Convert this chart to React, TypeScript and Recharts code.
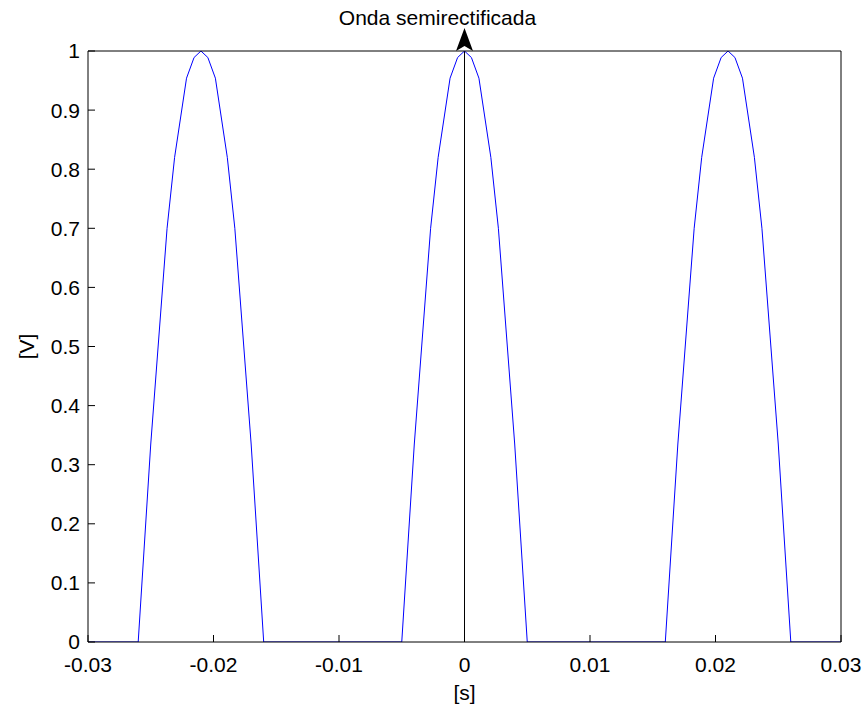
import React from "react";
import {
  LineChart,
  Line,
  XAxis,
  YAxis,
  ReferenceLine,
} from "recharts";

// sample times in seconds and the rectified voltage
const timeS = [
  -0.03, -0.026, -0.025, -0.0237, -0.0231, -0.02215, -0.02155, -0.021,
  -0.02045, -0.01985, -0.0189, -0.0183, -0.017, -0.016, -0.005, -0.004,
  -0.0027, -0.0021, -0.00115, -0.00055, 0, 0.00055, 0.00115, 0.0021, 0.0027,
  0.004, 0.005, 0.016, 0.017, 0.0183, 0.0189, 0.01985, 0.02045, 0.021,
  0.02155, 0.02215, 0.0231, 0.0237, 0.025, 0.026, 0.03,
];
const voltageV = [
  0, 0, 0.335, 0.7, 0.82, 0.954, 0.989, 1, 0.989, 0.954, 0.82, 0.7, 0.335, 0,
  0, 0.335, 0.7, 0.82, 0.954, 0.989, 1, 0.989, 0.954, 0.82, 0.7, 0.335, 0, 0,
  0.335, 0.7, 0.82, 0.954, 0.989, 1, 0.989, 0.954, 0.82, 0.7, 0.335, 0, 0,
];

const xTicks = [-0.03, -0.02, -0.01, 0, 0.01, 0.02, 0.03];
const yTicks = [0, 0.1, 0.2, 0.3, 0.4, 0.5, 0.6, 0.7, 0.8, 0.9, 1];

const TITLE = "Onda semirectificada";
const X_LABEL = "[s]";
const Y_LABEL = "[V]";

const FONT = "'Liberation Sans', Arial, sans-serif";
const FONT_SIZE = 21;
const TICK = { fill: "#000", fontSize: FONT_SIZE, fontFamily: FONT };

const data = timeS.map((t, i) => ({ t, v: voltageV[i] }));

function ArrowAnnotation(props: any) {
  const { viewBox } = props;
  const x = viewBox.x;
  const y = viewBox.y;
  return (
    <g>
      <polygon
        points={`${x},${y - 23} ${x + 8.5},${y} ${x},${y - 5} ${x - 8.5},${y}`}
        fill="#000"
      />
      <text
        x={x - 27}
        y={y - 26}
        textAnchor="middle"
        fontFamily={FONT}
        fontSize={FONT_SIZE}
        fill="#000"
      >
        {TITLE}
      </text>
    </g>
  );
}

function YLabel(props: any) {
  const { viewBox } = props;
  const cx = 26;
  const cy = viewBox.y + viewBox.height / 2;
  return (
    <text
      x={cx}
      y={cy}
      dy="0.36em"
      textAnchor="middle"
      transform={`rotate(-90, ${cx}, ${cy})`}
      fontFamily={FONT}
      fontSize={FONT_SIZE}
      fill="#000"
    >
      {Y_LABEL}
    </text>
  );
}

export default function App() {
  return (
    <div style={{ position: "absolute", left: 0, top: 0, background: "#fff" }}>
      <LineChart
        width={864}
        height={707}
        data={data}
        margin={{ top: 50, right: 22, bottom: 0, left: 0 }}
      >
        <XAxis
          dataKey="t"
          type="number"
          domain={[-0.03, 0.03]}
          ticks={xTicks}
          tickFormatter={(v: number) => String(v)}
          allowDataOverflow
          height={65}
          axisLine={{ stroke: "#000" }}
          tickLine={{ stroke: "#000" }}
          tickSize={-7}
          tickMargin={22}
          tick={TICK}
          interval={0}
          label={{
            value: X_LABEL,
            position: "insideBottom",
            offset: 7,
            fill: "#000",
            fontSize: FONT_SIZE,
            fontFamily: FONT,
          }}
        />
        <XAxis
          xAxisId="top"
          orientation="top"
          dataKey="t"
          type="number"
          domain={[-0.03, 0.03]}
          ticks={xTicks}
          allowDataOverflow
          height={1}
          axisLine={{ stroke: "#000" }}
          tickLine={{ stroke: "#000" }}
          tickSize={-7}
          tick={false}
          interval={0}
        />
        <YAxis
          type="number"
          domain={[0, 1]}
          ticks={yTicks}
          tickFormatter={(v: number) => String(v)}
          allowDataOverflow
          width={88}
          axisLine={{ stroke: "#000" }}
          tickLine={{ stroke: "#000" }}
          tickSize={-7}
          tickMargin={15}
          tick={TICK}
          interval={0}
          label={<YLabel />}
        />
        <YAxis
          yAxisId="right"
          orientation="right"
          type="number"
          domain={[0, 1]}
          ticks={yTicks}
          allowDataOverflow
          width={1}
          axisLine={{ stroke: "#000" }}
          tickLine={{ stroke: "#000" }}
          tickSize={-7}
          tick={false}
          interval={0}
        />
        <ReferenceLine
          x={0}
          stroke="#000"
          strokeWidth={1}
          label={ArrowAnnotation}
        />
        <Line
          type="linear"
          dataKey="v"
          stroke="#0000ff"
          strokeWidth={1}
          dot={false}
          activeDot={false}
          isAnimationActive={false}
        />
      </LineChart>
    </div>
  );
}
